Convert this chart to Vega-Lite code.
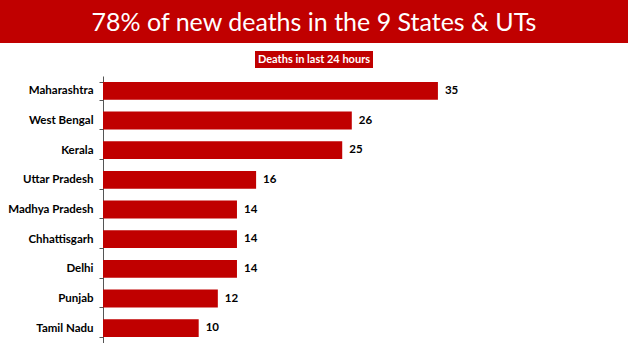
{
  "$schema": "https://vega.github.io/schema/vega-lite/v6.json",
  "padding": 0,
  "background": "white",
  "config": {"view": {"stroke": null}},
  "spacing": 8,
  "center": true,
  "bounds": "flush",
  "vconcat": [
    {
      "width": 628,
      "height": 43,
      "data": {"values": [{"title": "78% of new deaths in the 9 States & UTs"}]},
      "layer": [
        {"mark": {"type": "rect", "color": "#C00000"}, "encoding": {}},
        {"mark": {"type": "text", "color": "white", "font": "Lato", "fontSize": 25, "baseline": "middle", "dy": 1}, "encoding": {"text": {"field": "title"}}}
      ]
    },
    {
      "width": 118,
      "height": 17,
      "data": {"values": [{"label": "Deaths in last 24 hours"}]},
      "layer": [
        {"mark": {"type": "rect", "color": "#C00000"}, "encoding": {}},
        {"mark": {"type": "text", "color": "white", "font": "Lato", "fontSize": 11, "fontWeight": "bold", "baseline": "middle"}, "encoding": {"text": {"field": "label"}}}
      ]
    },
    {
      "width": 422,
      "height": 267,
      "data": {"values": [
        {"state": "Maharashtra", "deaths": 35},
        {"state": "West Bengal", "deaths": 26},
        {"state": "Kerala", "deaths": 25},
        {"state": "Uttar Pradesh", "deaths": 16},
        {"state": "Madhya Pradesh", "deaths": 14},
        {"state": "Chhattisgarh", "deaths": 14},
        {"state": "Delhi", "deaths": 14},
        {"state": "Punjab", "deaths": 12},
        {"state": "Tamil Nadu", "deaths": 10}
      ]},
      "encoding": {
        "y": {
          "field": "state", "type": "nominal",
          "sort": ["Maharashtra", "West Bengal", "Kerala", "Uttar Pradesh", "Madhya Pradesh", "Chhattisgarh", "Delhi", "Punjab", "Tamil Nadu"],
          "scale": {"paddingInner": 0.4, "paddingOuter": 0.2},
          "axis": {"title": null, "domainColor": "#555", "tickColor": "#555", "tickSize": 4, "tickBand": "extent", "labelFont": "Lato", "labelFontWeight": "bold", "labelFontSize": 11.5, "labelColor": "black", "labelPadding": 6}
        },
        "x": {"field": "deaths", "type": "quantitative", "scale": {"domain": [0, 44.1]}, "axis": null}
      },
      "layer": [
        {"mark": {"type": "bar", "color": "#C00000"}},
        {"mark": {"type": "text", "align": "left", "dx": 7, "font": "Lato", "fontWeight": "bold", "fontSize": 11.5, "color": "black"}, "encoding": {"text": {"field": "deaths"}}}
      ]
    }
  ]
}
